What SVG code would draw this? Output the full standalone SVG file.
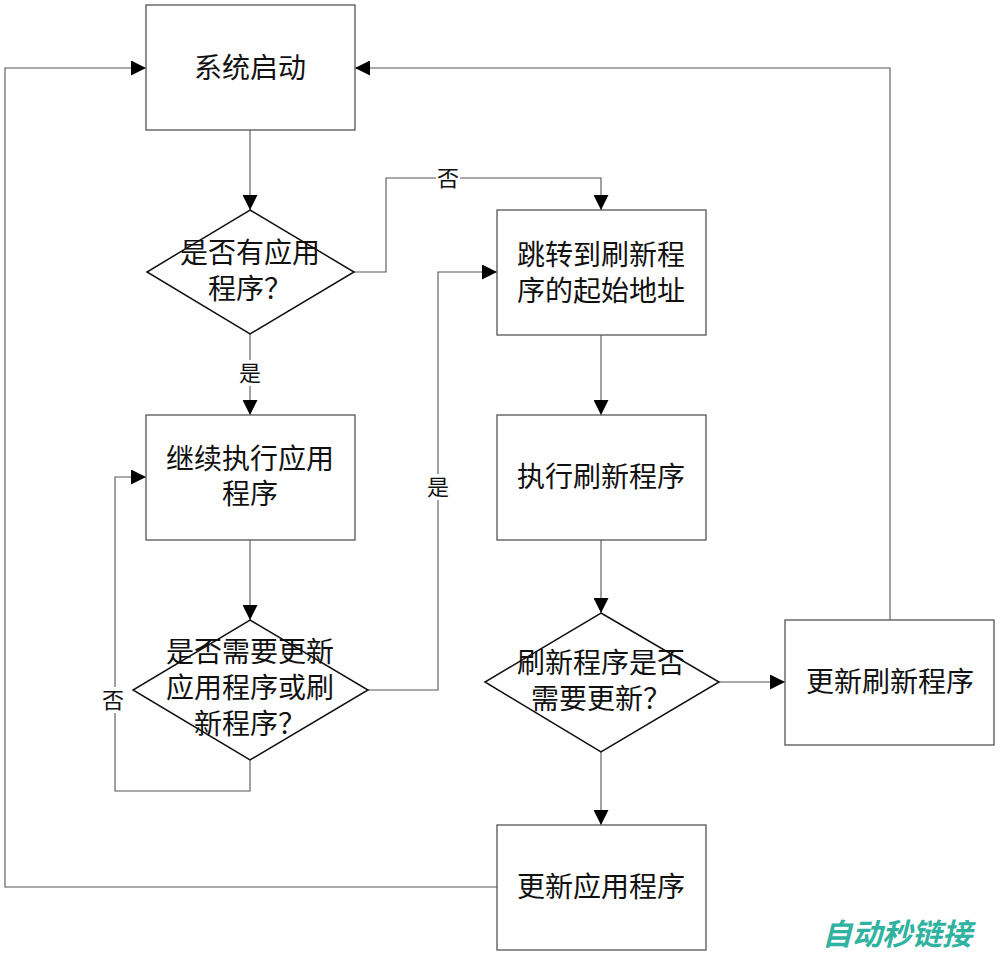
<svg xmlns="http://www.w3.org/2000/svg" width="1000" height="955" viewBox="0 0 1000 955">
<defs>
<marker id="arr" viewBox="0 0 10 10" refX="10" refY="5" markerWidth="15" markerHeight="15" markerUnits="userSpaceOnUse" orient="auto">
<path d="M0,0 L10,5 L0,10 Z" fill="#000"/>
</marker>
<style>
.box{fill:#fff;stroke:#555;stroke-width:1.3}
.dia{fill:#fff;stroke:#111;stroke-width:1.5}
.t{font-family:"Liberation Serif","Noto Sans CJK SC",serif;font-size:28px;fill:#111;text-anchor:middle}
.lb{font-family:"Liberation Serif","Noto Sans CJK SC",serif;font-size:22px;fill:#111;text-anchor:middle}
.c{fill:none;stroke:#555;stroke-width:1.1}
.ca{fill:none;stroke:#555;stroke-width:1.1;marker-end:url(#arr)}
</style>
</defs>
<rect width="1000" height="955" fill="#fff"/>
<g id="connectors">
<path class="ca" d="M250,130 V210"/>
<path class="ca" d="M354,272 H386 V178 H601 V210"/>
<path class="ca" d="M250,334 V415"/>
<path class="ca" d="M250,540 V620"/>
<path class="ca" d="M250,760 V791 H115 V477 H146"/>
<path class="ca" d="M368,690 H438 V272 H497"/>
<path class="ca" d="M601,335 V415"/>
<path class="ca" d="M601,540 V613"/>
<path class="ca" d="M719,682 H785"/>
<path class="ca" d="M890,620 V68 H355"/>
<path class="ca" d="M601,752 V825"/>
<path class="ca" d="M497,887 H5 V68 H146"/>
<rect x="436" y="165" width="24" height="26" fill="#fff"/>
<text class="lb" x="448" y="186">否</text>
<rect x="238" y="360" width="24" height="26" fill="#fff"/>
<text class="lb" x="250" y="381">是</text>
<rect x="426" y="474" width="24" height="26" fill="#fff"/>
<text class="lb" x="438" y="495">是</text>
<rect x="101" y="687" width="24" height="26" fill="#fff"/>
<text class="lb" x="113" y="708">否</text>
</g>
<g id="n1"><rect class="box" x="146" y="5" width="209" height="125"/><text class="t" x="250" y="78">系统启动</text></g>
<g id="n2"><polygon class="dia" points="250,210 354,272 250,334 147,272"/><text class="t" x="250" y="263">是否有应用</text><text class="t" x="250" y="299">程序？</text></g>
<g id="n3"><rect class="box" x="497" y="210" width="209" height="125"/><text class="t" x="601" y="265">跳转到刷新程</text><text class="t" x="601" y="301">序的起始地址</text></g>
<g id="n4"><rect class="box" x="146" y="415" width="209" height="125"/><text class="t" x="250" y="469">继续执行应用</text><text class="t" x="250" y="504">程序</text></g>
<g id="n5"><polygon class="dia" points="250,620 368,690 250,760 133,690"/><text class="t" x="250" y="662">是否需要更新</text><text class="t" x="250" y="698">应用程序或刷</text><text class="t" x="250" y="734">新程序？</text></g>
<g id="n6"><rect class="box" x="497" y="415" width="209" height="125"/><text class="t" x="601" y="487">执行刷新程序</text></g>
<g id="n7"><polygon class="dia" points="601,613 719,682 601,752 485,682"/><text class="t" x="601" y="673">刷新程序是否</text><text class="t" x="601" y="709">需要更新？</text></g>
<g id="n8"><rect class="box" x="785" y="620" width="209" height="125"/><text class="t" x="890" y="692">更新刷新程序</text></g>
<g id="n9"><rect class="box" x="497" y="825" width="209" height="125"/><text class="t" x="601" y="897">更新应用程序</text></g>
<text x="897" y="945" font-family="'Noto Sans CJK SC',sans-serif" font-size="30" font-weight="bold" font-style="italic" fill="#2fb3a0" text-anchor="middle">自动秒链接</text>
</svg>
